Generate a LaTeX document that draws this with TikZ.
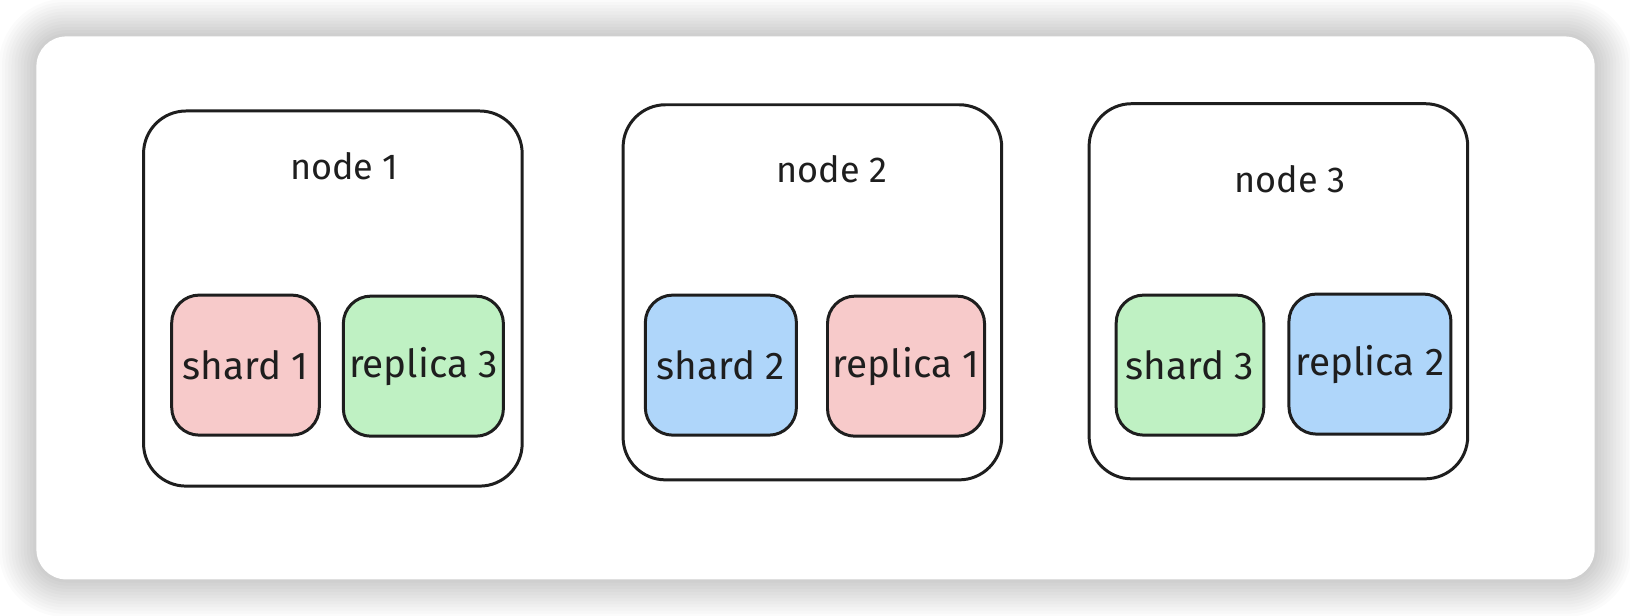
\documentclass[tikz,border=0pt]{standalone}
\usepackage{fontspec}
\setmainfont{Fira Sans}
\usepackage{tikz}
\usetikzlibrary{positioning}

\definecolor{shardred}{HTML}{F7CACA}
\definecolor{shardgreen}{HTML}{BFF1C3}
\definecolor{shardblue}{HTML}{AFD6FA}
\definecolor{inkline}{HTML}{1E1E1E}

\tikzset{
  hostbox/.style={draw=inkline, line width=1.7pt, rounded corners=0.85cm,
    minimum width=7.57cm, minimum height=7.5cm, fill=white},
  shardbox/.style={draw=inkline, line width=1.7pt, rounded corners=0.55cm,
    minimum height=2.8cm, inner sep=2pt, text=inkline,
    font=\fontsize{22}{26}\selectfont},
  hosttitle/.style={font=\fontsize{20.5}{24}\selectfont, text=inkline},
}

\begin{document}
\begin{tikzpicture}[x=0.0208cm, y=-0.0208cm]
\useasboundingbox (0,0) rectangle (1567,592);
% Shadow and card
\fill[white] (0,0) rectangle (1567,592);
\foreach \i in {1,...,12}
  \fill[black, opacity=0.016, rounded corners=0.6cm+\i*0.06cm]
    (35-\i*3,35-\i*3) rectangle (1533+\i*3,557+\i*3);
\fill[white, rounded corners=0.6cm] (35,35) rectangle (1533,557);
% Hosts
\node[hostbox] (host1) at (320,287) {};
\node[hostbox] (host2) at (781,281) {};
\node[hostbox] (host3) at (1229,280) {};
% Titles
\node[hosttitle] (title1) at (331,160) {node 1};
\node[hosttitle] (title2) at (800,163) {node 2};
\node[hosttitle] (title3) at (1240,172) {node 3};
% Shards
\node[shardbox, fill=shardred, minimum width=2.95cm] (shard1) at (236,351) {shard 1};
\node[shardbox, fill=shardgreen, minimum width=3.2cm] (replica3) at (407,352) {replica 3};
\node[shardbox, fill=shardblue, minimum width=3.02cm] (shard2) at (693,351) {shard 2};
\node[shardbox, fill=shardred, minimum width=3.14cm] (replica1) at (871,352) {replica 1};
\node[shardbox, fill=shardgreen, minimum width=2.95cm] (shard3) at (1144,351) {shard 3};
\node[shardbox, fill=shardblue, minimum width=3.24cm] (replica2) at (1317,350) {replica 2};
\end{tikzpicture}
\end{document}
